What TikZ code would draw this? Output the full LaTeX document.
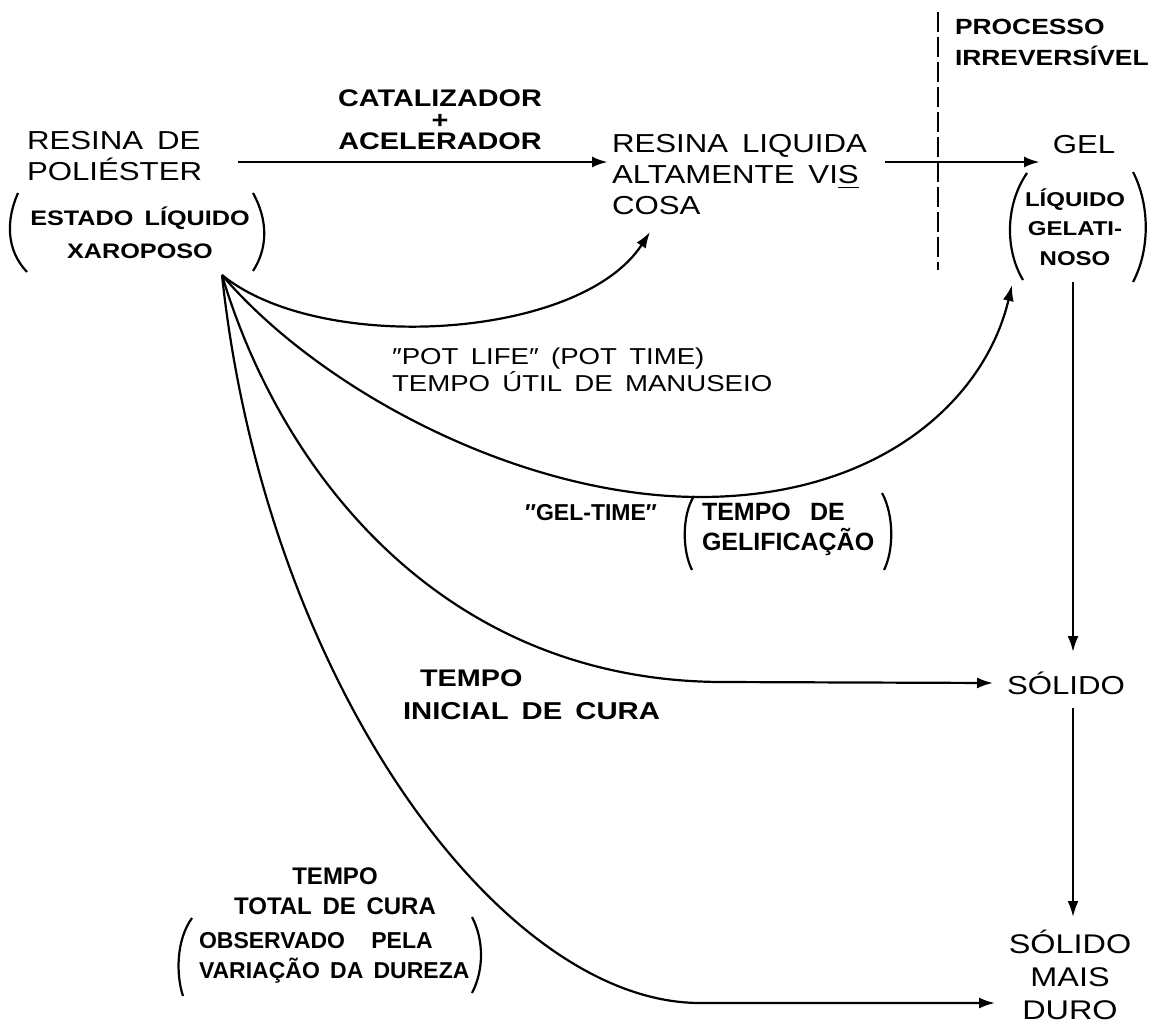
\documentclass[tikz,border=0pt]{standalone}
\usepackage{fontspec}
\setmainfont{Liberation Sans}[FakeStretch=1.2, WordSpace=1.6]
\newfontfamily\narrowsf{Liberation Sans}[FakeStretch=1.0, WordSpace=1.6]
\usetikzlibrary{arrows.meta}
\tikzset{
  x=0.5pt, y=-0.5pt,
  lbl/.style={inner sep=0pt, outer sep=0pt},
  big/.style={lbl, font=\fontsize{13}{15.5}\selectfont},
  med/.style={lbl, font=\fontsize{12}{16}\selectfont\bfseries},
  sml/.style={lbl, font=\fontsize{10.5}{15}\selectfont\bfseries},
  nar/.style={lbl, font=\narrowsf\fontsize{12}{15}\selectfont\bfseries},
  conn/.style={line width=1.1pt, -{Latex[length=8pt,width=5.5pt]}},
  paren/.style={line width=1.1pt},
  divider/.style={line width=1.1pt, dash pattern=on 10pt off 2.5pt}
}
\begin{document}
\begin{tikzpicture}
\path[use as bounding box] (0,0) rectangle (1151,1027);

% texts
\node[big, align=left, anchor=west] (resina) at (27,156) {RESINA DE\\POLIÉSTER};
\node[sml, align=center, font=\fontsize{10.5}{16.5}\selectfont\bfseries] (estado) at (140,233) {ESTADO LÍQUIDO\\XAROPOSO};
\node[med, align=center, font=\fontsize{12}{10.75}\selectfont\bfseries] (catal) at (440,120) {CATALIZADOR\\+\\ACELERADOR};
\node[big, align=left, anchor=west] (liquida) at (612,175) {RESINA LIQUIDA\\ALTAMENTE VI\underline{S}\\COSA};
\node[big] (gel) at (1084,145) {GEL};
\node[sml, align=left, anchor=west, font=\fontsize{11}{15.5}\selectfont\bfseries] (processo) at (955,42) {PROCESSO\\IRREVERSÍVEL};
\node[sml, align=center, font=\fontsize{10}{14.75}\selectfont\bfseries] (gelat) at (1075,227) {LÍQUIDO\\GELATI-\\NOSO};
\node[big] (solido) at (1066,683) {SÓLIDO};
\node[big, align=center, font=\fontsize{13.5}{16.5}\selectfont] (duro) at (1070,975) {SÓLIDO\\MAIS\\DURO};
\node[lbl, align=left, anchor=west, font=\fontsize{11.5}{13.5}\selectfont] (pot) at (392,370) {″POT LIFE″ (POT TIME)\\TEMPO ÚTIL DE MANUSEIO};
\node[nar, font=\narrowsf\fontsize{11.5}{15}\selectfont\bfseries] (geltime) at (591,513) {″GEL-TIME″};
\node[nar, align=left, anchor=west, font=\narrowsf\fontsize{12.5}{15}\selectfont\bfseries] (gelif) at (702,529) {TEMPO\hspace{4pt} DE\\GELIFICAÇÃO};
\node[med, anchor=west] (tempoA) at (420,678) {TEMPO};
\node[med, anchor=west, font=\fontsize{12.2}{15}\selectfont\bfseries] (inicial) at (403,711) {INICIAL DE CURA};
\node[nar, align=center] (total) at (335,891) {TEMPO\\TOTAL DE CURA};
\node[nar, align=left, anchor=west, font=\narrowsf\fontsize{11.5}{15}\selectfont\bfseries] (observ) at (199,958) {OBSERVADO\hspace{8pt} PELA\\VARIAÇÃO DA DUREZA};

% parentheses
\draw[paren] (18,193) .. controls (6,220) and (6,250) .. (27,272);
\draw[paren] (253,193) .. controls (268,220) and (268,248) .. (253,271);
\draw[paren] (1027,173) .. controls (1005,205) and (1005,250) .. (1023,280);
\draw[paren] (1133,172) .. controls (1150,205) and (1150,250) .. (1133,282);
\draw[paren] (694,496) .. controls (682,515) and (682,550) .. (692,570);
\draw[paren] (882,493) .. controls (894,515) and (894,550) .. (884,570);
\draw[paren] (192,918) .. controls (176,940) and (176,975) .. (183,996);
\draw[paren] (472,917) .. controls (484,940) and (484,970) .. (472,993);

% divider
\draw[divider] (938,12) -- (938,270);

% anchor points
\coordinate (O) at (222,275);
\coordinate (a1s) at (238,162);
\coordinate (a1e) at (608,162);
\coordinate (a2s) at (885,162);
\coordinate (a2e) at (1040,162);
\coordinate (a3s) at (1073,282);
\coordinate (a3e) at (1073,652);
\coordinate (a4s) at (1073,708);
\coordinate (a4e) at (1073,917);
\coordinate (c1e) at (650,232);
\coordinate (c2m) at (700,497);
\coordinate (c2e) at (1012,285);
\coordinate (c3m) at (720,682);
\coordinate (c3e) at (993,683);
\coordinate (c4m) at (700,1003);
\coordinate (c4e) at (995,1003);

% connectors
\draw[conn, line width=1.4pt] (a1s) -- (a1e);
\draw[conn, line width=1.4pt] (a2s) -- (a2e);
\draw[conn] (a3s) -- (a3e);
\draw[conn] (a4s) -- (a4e);
\draw[conn] (O) .. controls (320,355) and (580,340) .. (c1e);
\draw[conn] (O) .. controls (320,390) and (520,497) .. (c2m) .. controls (880,497) and (985,400) .. (c2e);
\draw[conn] (O) .. controls (280,470) and (440,680) .. (c3m) -- (c3e);
\draw[conn] (O) .. controls (265,680) and (500,1003) .. (c4m) -- (c4e);
\end{tikzpicture}
\end{document}
